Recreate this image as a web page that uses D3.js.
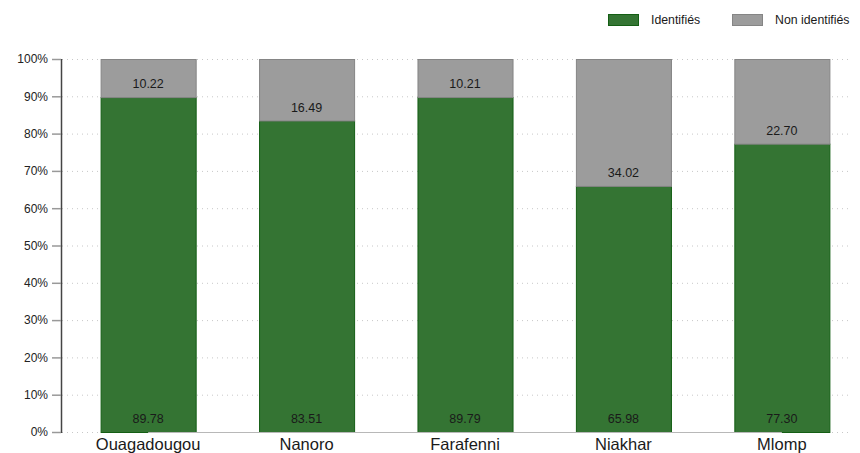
<!DOCTYPE html>
<html>
<head>
<meta charset="utf-8">
<script src="https://cdn.jsdelivr.net/npm/d3@7"></script>
<style>
  body { margin: 0; background: #fff; }
  svg { display: block; font-family: "Liberation Sans", Arial, sans-serif; }
</style>
</head>
<body>
<svg id="chart" width="860" height="453"></svg>
<script>
// Sites and shares of identified / non-identified cases (%)
const categories = ["Ouagadougou", "Nanoro", "Farafenni", "Niakhar", "Mlomp"];
const identifies = [89.78, 83.51, 89.79, 65.98, 77.30];
const nonIdentifies = [10.22, 16.49, 10.21, 34.02, 22.70];
const seriesNames = ["Identifiés", "Non identifiés"];
const yTicks = [0, 10, 20, 30, 40, 50, 60, 70, 80, 90, 100];

const colors = { fill: ["#347433", "#9c9c9c"], stroke: ["#145e14", "#858585"] };

const svg = d3.select("#chart");
const plot = { left: 61, right: 850, top: 59, bottom: 432 };

const x = d3.scaleBand()
  .domain(categories)
  .range([plot.left, 869])
  .paddingInner(0.4)
  .paddingOuter(0.25);

const y = d3.scaleLinear().domain([0, 100]).range([plot.bottom, plot.top]);

// Dotted horizontal grid
svg.append("g")
  .selectAll("line")
  .data(yTicks)
  .join("line")
  .attr("x1", plot.left + 1)
  .attr("x2", plot.right)
  .attr("y1", d => y(d) + 0.5)
  .attr("y2", d => y(d) + 0.5)
  .attr("stroke", "#c8c8c8")
  .attr("stroke-width", 1)
  .attr("stroke-dasharray", "1,4");

// Stack the two series
const rows = categories.map((c, i) => ({ cat: c, a: identifies[i], b: nonIdentifies[i] }));
const stack = d3.stack().keys(["a", "b"])(rows);

const layers = svg.append("g")
  .selectAll("g")
  .data(stack)
  .join("g")
  .attr("fill", (d, i) => colors.fill[i])
  .attr("stroke", (d, i) => colors.stroke[i]);

layers.selectAll("rect")
  .data(d => d)
  .join("rect")
  .attr("x", d => x(d.data.cat) + 0.5)
  .attr("width", x.bandwidth())
  .attr("y", d => y(d[1]) + 0.5)
  .attr("height", d => y(d[0]) - y(d[1]))
  .attr("stroke-width", 1);

// Value labels near the base of each segment
const labels = svg.append("g")
  .attr("font-size", 12.5)
  .attr("fill", "#1a1a1a")
  .attr("text-anchor", "middle");

stack.forEach(layer => {
  labels.selectAll(null)
    .data(layer)
    .join("text")
    .attr("x", d => x(d.data.cat) + x.bandwidth() / 2)
    .attr("y", d => y(d[0]) - 9)
    .text(d => (d[1] - d[0]).toFixed(2));
});

// Baseline between first and last category centres
svg.append("line")
  .attr("x1", x(categories[0]) + x.bandwidth() / 2)
  .attr("x2", x(categories[categories.length - 1]) + x.bandwidth() / 2)
  .attr("y1", plot.bottom + 0.5)
  .attr("y2", plot.bottom + 0.5)
  .attr("stroke", "#b8b8b8")
  .attr("stroke-width", 1.2);

// Y axis
const yAxis = svg.append("g")
  .attr("transform", `translate(${plot.left},0)`)
  .call(d3.axisLeft(y).tickValues(yTicks).tickFormat(d => d + "%").tickSize(9).tickPadding(4));
yAxis.select(".domain").attr("stroke", "#444").attr("stroke-width", 1.5)
  .attr("d", `M0.5,${plot.top}V${plot.bottom + 1}`);
yAxis.selectAll(".tick line").attr("stroke", "#999").attr("stroke-width", 1.5);
yAxis.selectAll(".tick text").attr("font-size", 12).attr("fill", "#222")
  .attr("font-family", "Liberation Sans, Arial, sans-serif");

// Category labels
svg.append("g")
  .selectAll("text")
  .data(categories)
  .join("text")
  .attr("x", d => x(d) + x.bandwidth() / 2)
  .attr("y", 449.5)
  .attr("text-anchor", "middle")
  .attr("font-size", 16.5)
  .attr("fill", "#1a1a1a")
  .text(d => d);

// Legend
const legendX = [608, 732];
const legend = svg.append("g")
  .selectAll("g")
  .data(seriesNames)
  .join("g")
  .attr("transform", (d, i) => `translate(${legendX[i]},14)`);
legend.append("rect")
  .attr("x", 0.5).attr("y", 0.5)
  .attr("width", 30).attr("height", 11)
  .attr("fill", (d, i) => colors.fill[i])
  .attr("stroke", (d, i) => colors.stroke[i]);
legend.append("text")
  .attr("x", 43)
  .attr("y", 10)
  .attr("font-size", 12.3)
  .attr("fill", "#1a1a1a")
  .text(d => d);
</script>
</body>
</html>
